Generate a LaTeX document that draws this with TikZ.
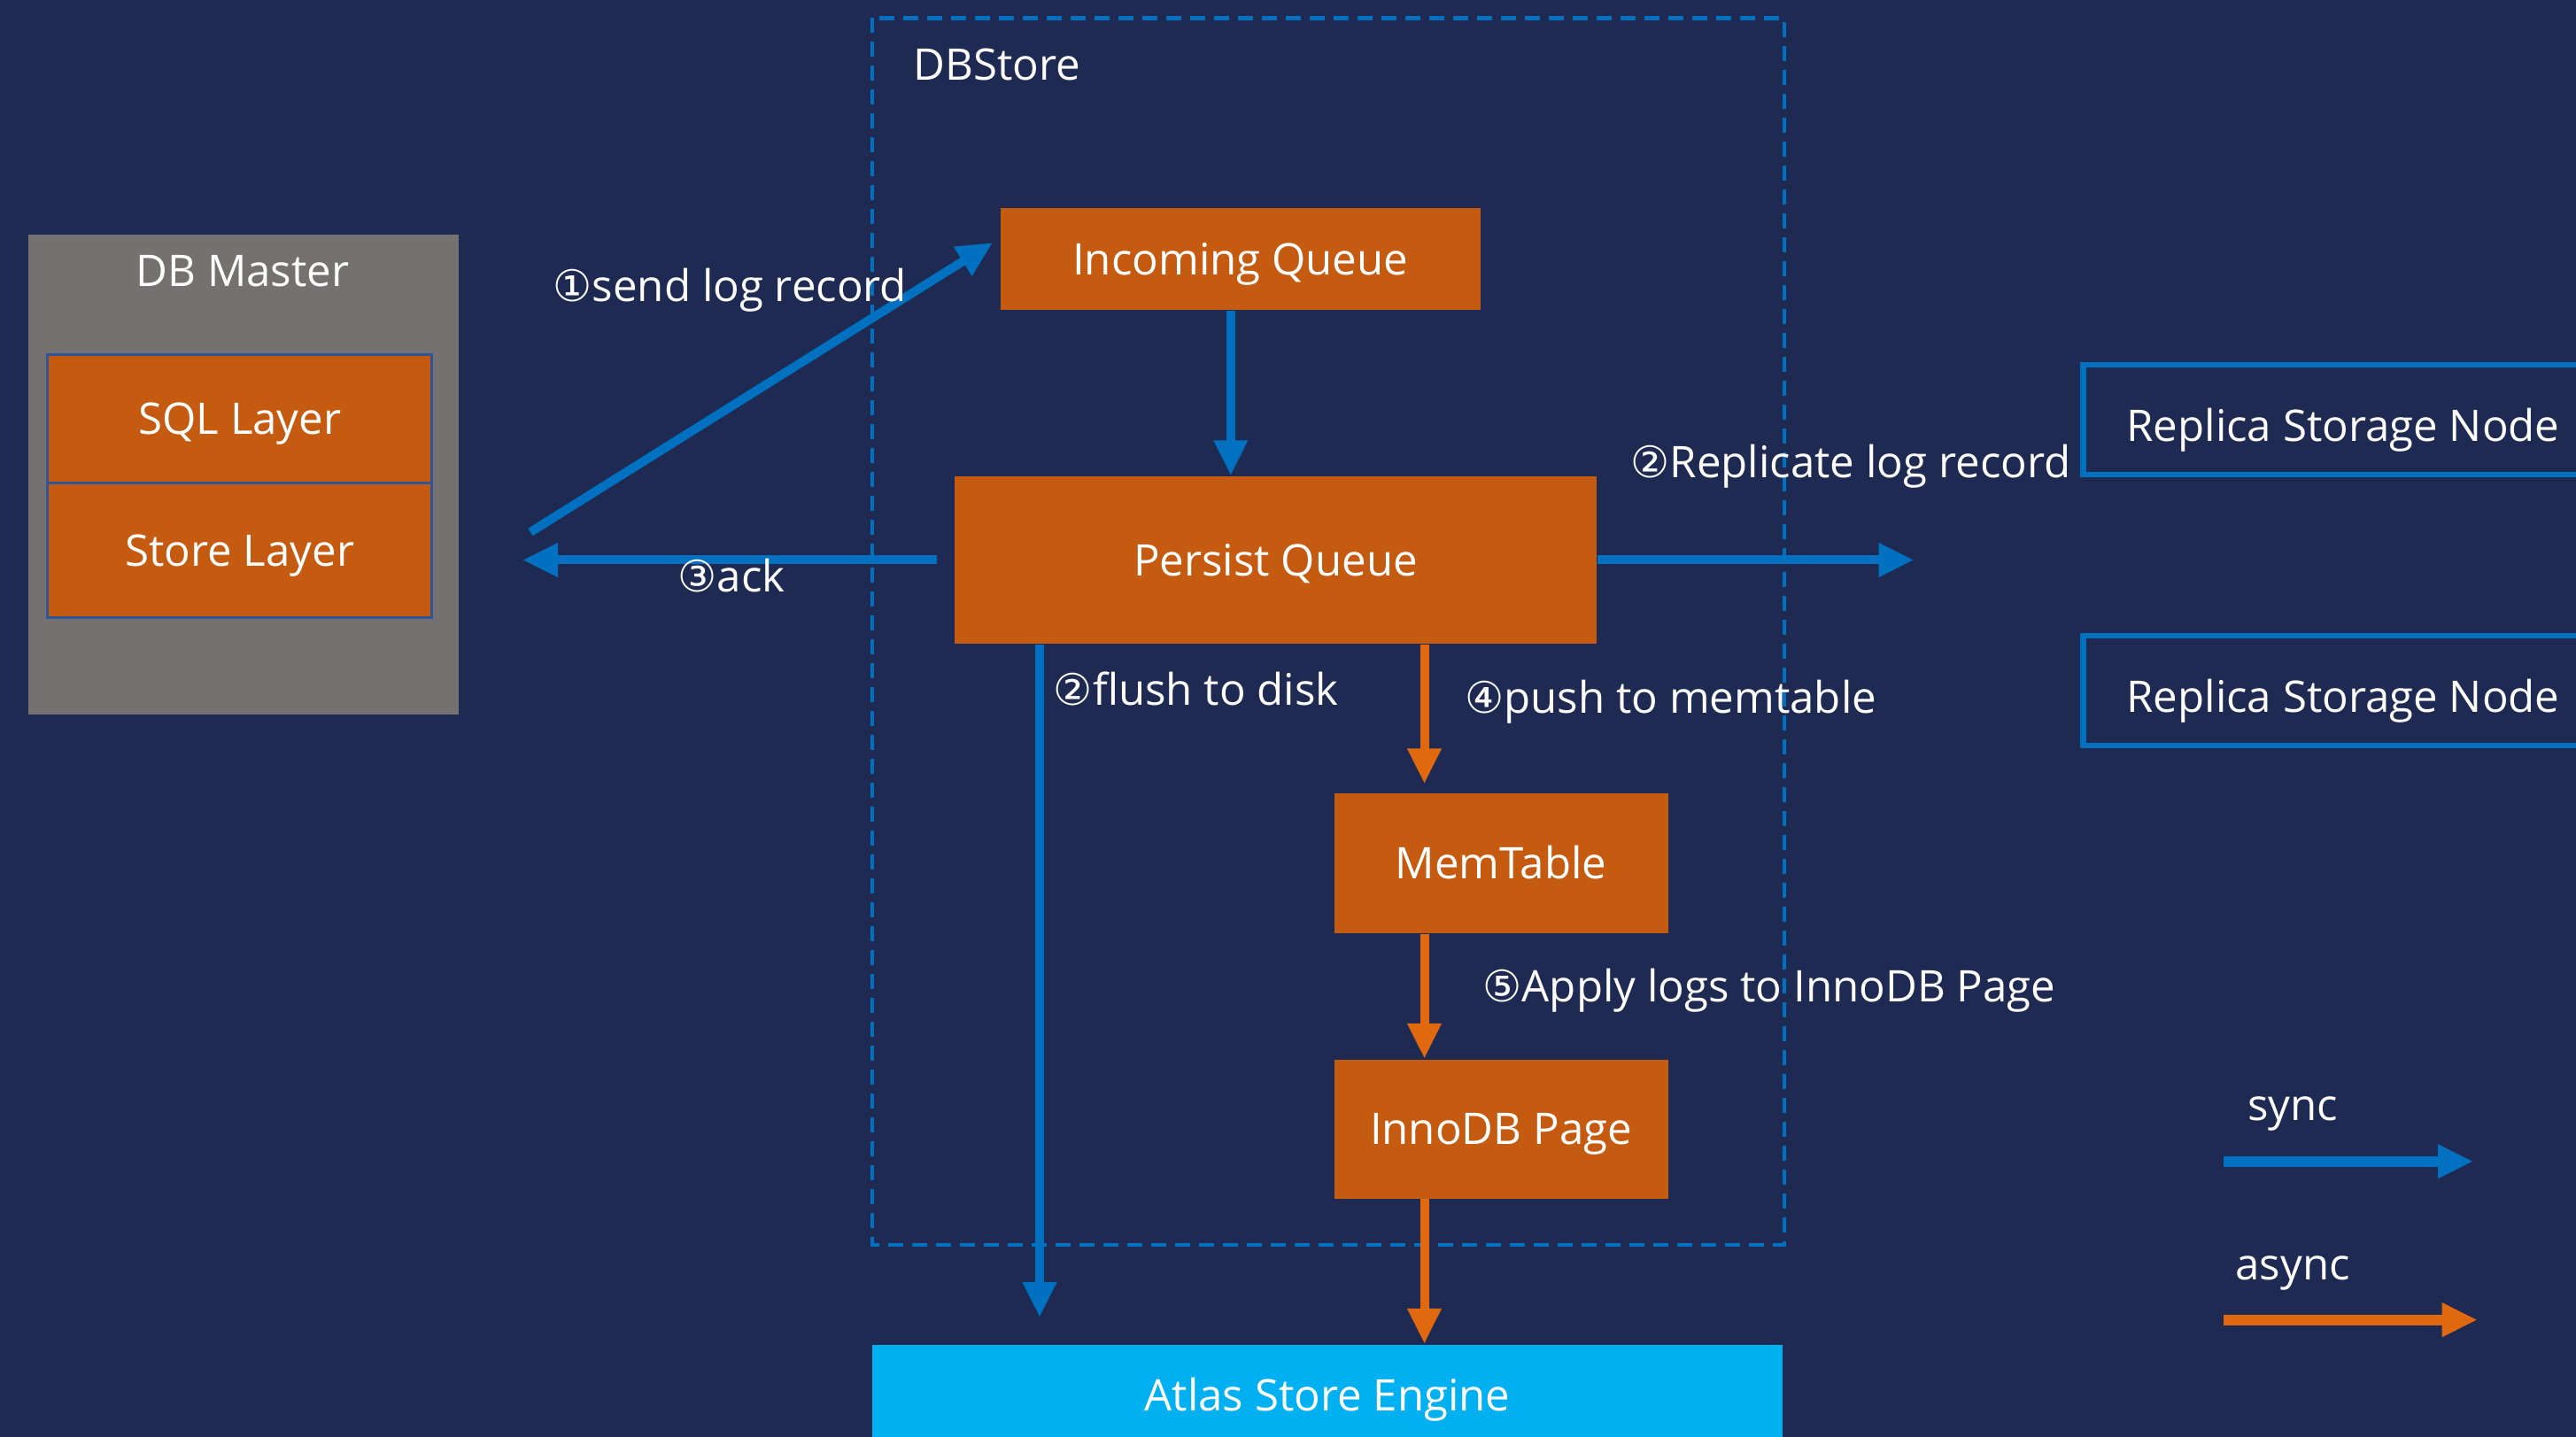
\documentclass[tikz,border=0pt]{standalone}
\usepackage{fontspec}
\setmainfont{Open Sans}
\newfontfamily\circfont{DejaVu Sans}
\usetikzlibrary{arrows.meta}
\definecolor{navy}{HTML}{1E2A52}
\definecolor{boxorange}{HTML}{C55A11}
\definecolor{arroworange}{HTML}{E0690F}
\definecolor{syncblue}{HTML}{0070C0}
\definecolor{mastergray}{HTML}{767171}
\definecolor{layerline}{HTML}{2F5597}
\definecolor{atlasblue}{HTML}{00B0F0}
\newcommand{\cnum}[1]{{\circfont #1}}

\begin{document}
\begin{tikzpicture}[align=center, font=\fontsize{14}{17}\selectfont, text=white,
  lbl/.style={inner sep=0pt, text height=0.353cm, text depth=0pt},
  box/.style={fill=boxorange, inner sep=0pt, text height=0.353cm, text depth=0pt},
  replica/.style={draw=syncblue, line width=1.8pt, inner sep=0pt, text height=0.485cm, text depth=0pt, minimum width=5.87cm, minimum height=1.24cm},
  sync/.style={draw=syncblue, line width=0.1cm, -{Triangle[length=0.4cm,width=0.36cm]}},
  async/.style={draw=arroworange, line width=0.1cm, -{Triangle[length=0.4cm,width=0.36cm]}}]
\useasboundingbox (0,0) rectangle (29.09,-16.23);
\clip (0,0) rectangle (29.09,-16.23);
\fill[navy] (0,0) rectangle (29.09,-16.23);
% db master
\node[fill=mastergray, minimum width=4.86cm, minimum height=5.42cm] (master) at (2.746,-5.36) {};
\node[lbl] (mastertitle) at (2.74,-3.058) {DB Master};
\node[box, draw=layerline, line width=0.8pt, minimum width=4.34cm, minimum height=1.45cm] (sql) at (2.709,-4.73) {SQL Layer};
\node[box, draw=layerline, line width=0.8pt, minimum width=4.34cm, minimum height=1.52cm] (store) at (2.709,-6.215) {Store Layer};
% dbstore
\draw[syncblue, line width=1.3pt, dash pattern=on 0.17cm off 0.1cm] (9.85,-0.204) rectangle (20.15,-14.06);
\node[lbl, anchor=west] (dbstore) at (10.307,-0.728) {DBStore};
\node[box, minimum width=5.42cm, minimum height=1.15cm] (incoming) at (14.008,-2.93) {Incoming Queue};
\node[box, minimum width=7.25cm, minimum height=1.89cm] (persist) at (14.405,-6.325) {Persist Queue};
\node[box, minimum width=3.77cm, minimum height=1.58cm] (memtable) at (16.95,-9.75) {MemTable};
\node[box, minimum width=3.77cm, minimum height=1.57cm] (innodb) at (16.95,-12.75) {InnoDB Page};
\node[box, fill=atlasblue, minimum width=10.28cm, minimum height=1.15cm] (atlas) at (14.99,-15.76) {Atlas Store Engine};
% replicas
\node[replica] (replica1) at (26.46,-4.74) {Replica Storage Node};
\node[replica] (replica2) at (26.46,-7.80) {Replica Storage Node};
% free ends
\coordinate (sendstart) at (5.99,-6.01);
\coordinate (ackend) at (5.9,-6.325);
\coordinate (replend) at (21.615,-6.325);
\coordinate (flushend) at (11.74,-14.88);
\coordinate (feedx) at ([xshift=-0.11cm]incoming.south);
\coordinate (asyncx) at ([xshift=-0.865cm]memtable.north);
\draw[sync] (sendstart) -- ([xshift=-0.08cm,yshift=0.19cm]incoming.west);
\draw[sync] ([xshift=-0.19cm]persist.west) -- (ackend);
\draw[sync] (feedx) -- (persist.north -| feedx);
\draw[sync] (persist.east) -- (replend);
\draw[sync] (persist.south -| flushend) -- (flushend);
\draw[async] (persist.south -| asyncx) -- ([yshift=0.1cm]asyncx);
\draw[async] (memtable.south -| asyncx) -- (innodb.north -| asyncx);
\draw[async] (innodb.south -| asyncx) -- (atlas.north -| asyncx);
% labels
\node[lbl] (sendlbl) at (8.244,-3.23) {\cnum{①}send log record};
\node[lbl] (acklbl) at (8.259,-6.507) {\cnum{③}ack};
\node[lbl] (repllbl) at (20.90,-5.223) {\cnum{②}Replicate log record};
\node[lbl] (flushlbl) at (13.508,-7.79) {\cnum{②}flush to disk};
\node[lbl] (pushlbl) at (18.867,-7.874) {\cnum{④}push to memtable};
\node[lbl] (applylbl) at (19.98,-11.143) {\cnum{⑤}Apply logs to InnoDB Page};
% legend
\node[lbl] (synclbl) at (25.89,-12.48) {sync};
\node[lbl] (asynclbl) at (25.89,-14.274) {async};
\coordinate (syncstart) at (25.107,-13.117);
\coordinate (syncend) at (27.93,-13.117);
\coordinate (asyncstart) at (25.107,-14.907);
\coordinate (asyncend) at (27.977,-14.907);
\draw[sync, line width=0.12cm] (syncstart) -- (syncend);
\draw[async, line width=0.12cm] (asyncstart) -- (asyncend);
\end{tikzpicture}
\end{document}
